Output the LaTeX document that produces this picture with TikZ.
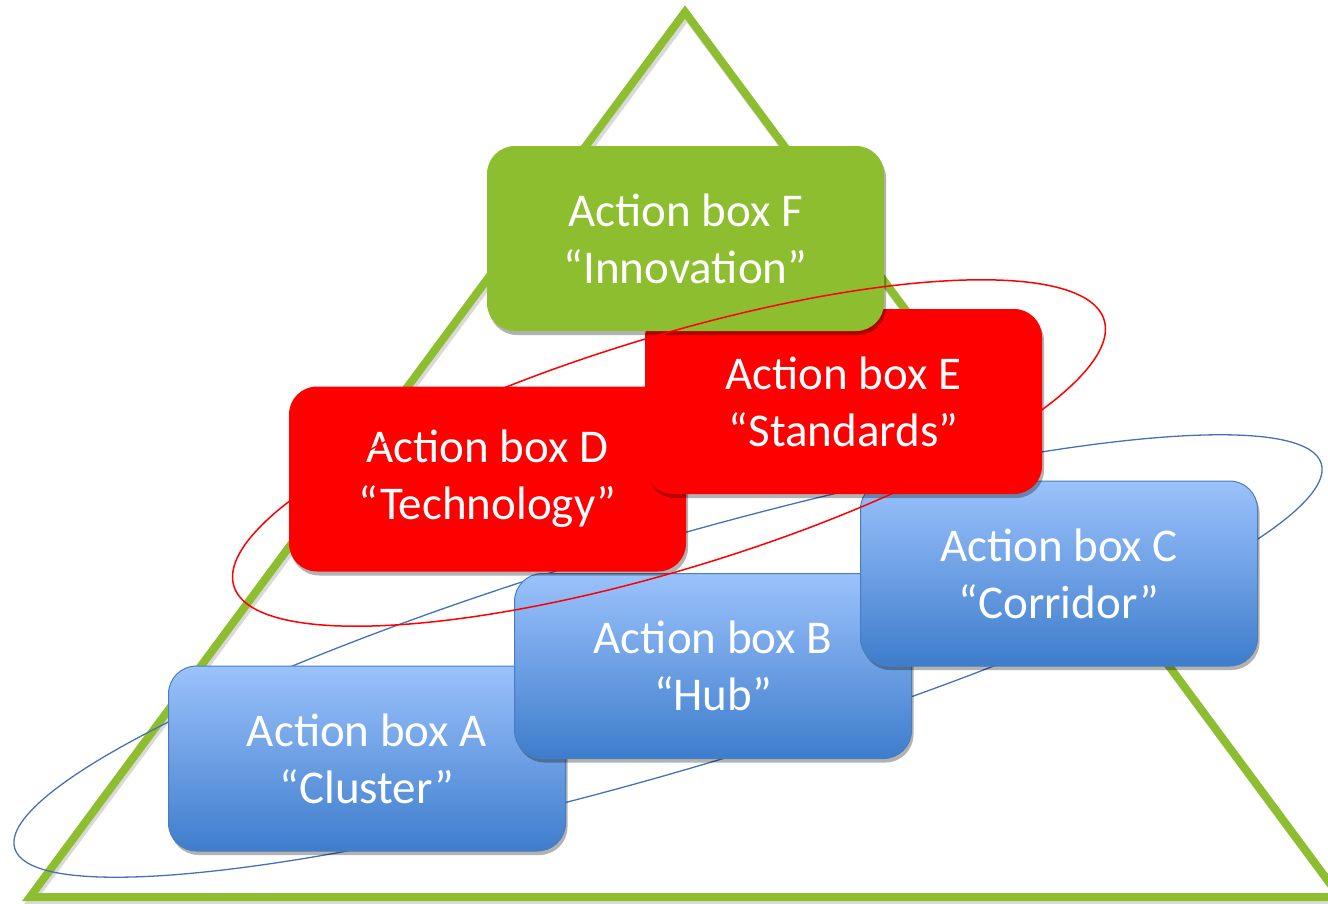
\documentclass[tikz,border=0pt]{standalone}
\usepackage{fontspec}
\setmainfont{Carlito}
\usetikzlibrary{shadows}
\definecolor{pgreen}{RGB}{141,190,47}
\definecolor{pred}{RGB}{255,0,0}
\definecolor{btop}{RGB}{155,194,252}
\definecolor{bbot}{RGB}{62,125,204}
\definecolor{bedge}{RGB}{74,126,187}
\definecolor{eblue}{RGB}{70,114,180}
\tikzset{
  actbox/.style={rounded corners=28pt, minimum width=397pt, minimum height=185pt,
    align=center, text=white, font=\fontsize{47}{57}\selectfont, inner sep=0pt,
    drop shadow={shadow xshift=2pt, shadow yshift=-4pt, opacity=0.3, fill=black}},
  bluebox/.style={actbox, draw=bedge, line width=1pt, top color=btop, bottom color=bbot},
  redbox/.style={actbox, fill=pred},
  greenbox/.style={actbox, fill=pgreen},
  tri/.style={draw=pgreen, line width=8pt, line join=miter},
  blueloop/.style={draw=eblue, line width=1.3pt},
  redloop/.style={draw=pred, line width=1.5pt}
}
\begin{document}
\begin{tikzpicture}[x=1pt,y=-1pt]
\useasboundingbox (0,0) rectangle (1328,903);
% triangle shadow and triangle
\draw[draw=black, opacity=0.15, line width=8pt, line join=miter] (32,900) -- (687,16) -- (1342,900) -- cycle;
\draw[tri] (30,897) -- (685,12) -- (1340,897) -- cycle;
% blue loop (behind boxes)
\draw[blueloop, rotate around={16.4:(668,656)}] (668,656) ellipse [x radius=681, y radius=114];
% boxes
\node[bluebox] (A) at (367,758.5) {Action box A\\“Cluster”};
\node[bluebox] (B) at (713,666) {Action box B\\“Hub”};
\node[bluebox] (C) at (1059,573.5) {Action box C\\“Corridor”};
\node[redbox] (D) at (487.5,479) {Action box D\\“Technology”};
\node[redbox] (E) at (843.5,401.5) {Action box E\\“Standards”};
\node[greenbox] (F) at (685.5,238.5) {Action box F\\“Innovation”};
% red loop (over boxes)
\draw[redloop, rotate around={17:(669,453)}] (669,453) ellipse [x radius=455, y radius=116];
\end{tikzpicture}
\end{document}
